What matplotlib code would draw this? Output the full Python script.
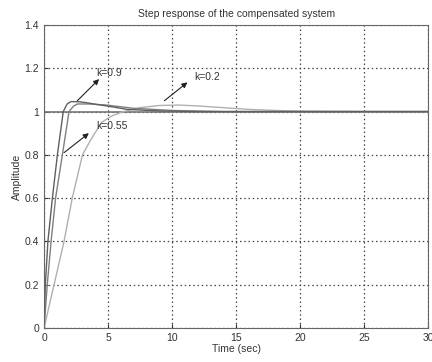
# step response of the compensated system
import matplotlib
matplotlib.use("Agg")
import matplotlib.pyplot as plt

plt.rcParams['font.family'] = ['Liberation Sans', 'DejaVu Sans']

# values
t_09 = [0, 0.1, 0.3, 0.65, 1.04, 1.5, 1.8, 2.1, 2.8, 3.4, 4.2, 5.0, 6.5, 9.0, 12, 20, 30]
y_09 = [0, 0.2, 0.4, 0.6, 0.8, 1.0, 1.035, 1.046, 1.045, 1.04, 1.032, 1.025, 1.01, 1.003, 1.0, 1.0, 1.0]

t_055 = [0, 0.25, 0.55, 0.9, 1.43, 1.95, 2.3, 2.6, 3.5, 4.9, 6.0, 7.0, 10, 14, 30]
y_055 = [0, 0.2, 0.4, 0.6, 0.8, 1.0, 1.025, 1.035, 1.035, 1.03, 1.022, 1.015, 1.005, 1.0, 1.0]

t_02 = [0, 0.78, 1.56, 2.2, 3.0, 3.65, 4.5, 5.3, 6.2, 7.5, 9.0, 10.5, 12, 14, 16, 18, 20, 25, 30]
y_02 = [0, 0.2, 0.4, 0.6, 0.8, 0.87, 0.95, 0.98, 1.0, 1.018, 1.028, 1.03, 1.026, 1.018, 1.01, 1.005, 1.002, 1.0, 1.0]

labels = ['k=0.9', 'k=0.2', 'k=0.55']
text_xy = [(4.1, 1.18), (11.7, 1.16), (4.06, 0.933)]
arrow_from = [(2.6, 1.05), (9.4, 1.05), (1.56, 0.81)]
arrow_to = [(4.3, 1.15), (11.2, 1.135), (3.5, 0.9)]

fig = plt.figure(figsize=(4.32, 3.62), dpi=100)
ax = fig.add_axes([0.102, 0.094, 0.889, 0.837])

ax.axhline(1.0, color='#777777', lw=1.2)
ax.plot(t_02, y_02, color='#b0b0b0', lw=1.0)
ax.plot(t_055, y_055, color='#808080', lw=1.0)
ax.plot(t_09, y_09, color='#606060', lw=1.0)

for lab, txy, a0, a1 in zip(labels, text_xy, arrow_from, arrow_to):
    ax.annotate('', xy=a1, xytext=a0,
                arrowprops=dict(arrowstyle='-|>', color='#222222', lw=0.8,
                                mutation_scale=8, shrinkA=0, shrinkB=0))
    ax.text(txy[0], txy[1], lab, fontsize=7.5, color='#333333',
            ha='left', va='center')

ax.set_xlim(0, 30)
ax.set_ylim(0, 1.4)
ax.set_xticks(range(0, 31, 5))
ax.set_yticks([0, 0.2, 0.4, 0.6, 0.8, 1, 1.2, 1.4])
ax.set_yticklabels(['0', '0.2', '0.4', '0.6', '0.8', '1', '1.2', '1.4'])
ax.grid(True, color='#444444', linestyle=(0, (1.2, 2.2)), lw=0.9)
ax.tick_params(labelsize=7.5, colors='#333333', length=3, direction='in')
for s in ax.spines.values():
    s.set_color('#666666')
ax.set_xlabel('Time (sec)', fontsize=7.5, color='#333333', labelpad=1)
ax.set_ylabel('Amplitude', fontsize=7.5, color='#333333', labelpad=2)
ax.set_title('Step response of the compensated system', fontsize=7.5,
             color='#333333', pad=6)

fig.savefig('out.png', dpi=100)
